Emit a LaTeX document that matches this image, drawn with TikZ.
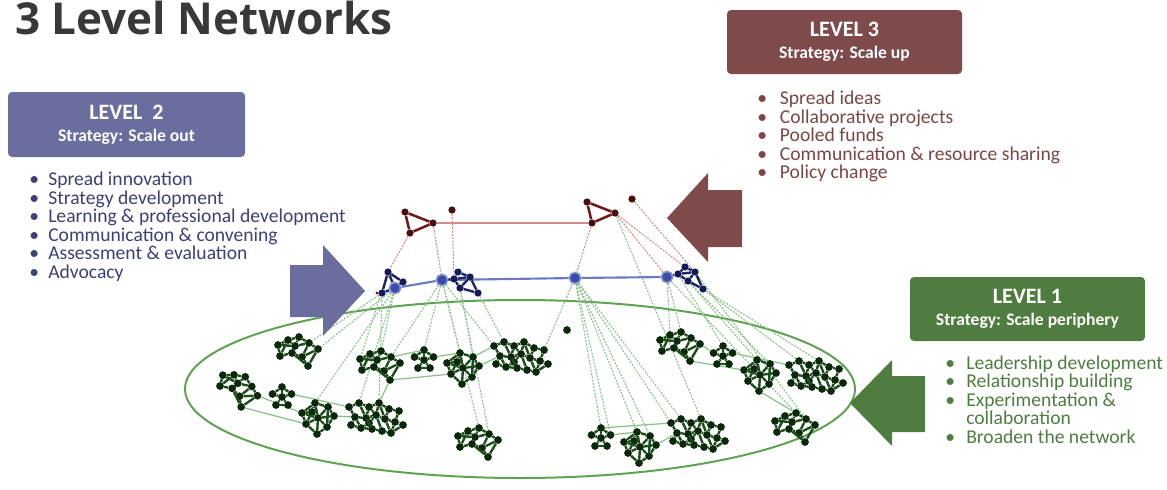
\documentclass[tikz,border=0pt]{standalone}
\usepackage{fontspec}
\setmainfont{Carlito}
\newfontfamily\titlefont{Open Sans}
\pgfdeclarelayer{bg}
\pgfsetlayers{bg,main}

\definecolor{titlec}{HTML}{383838}
\definecolor{l2c}{HTML}{6B6D9F}
\definecolor{l3c}{HTML}{7F4B4A}
\definecolor{l1c}{HTML}{4F7D3F}
\definecolor{l2t}{HTML}{3C3F78}
\definecolor{l3t}{HTML}{7B4644}
\definecolor{l1t}{HTML}{4E7D40}
\definecolor{ringc}{HTML}{5FA352}
\definecolor{gdotc}{HTML}{0A280A}
\definecolor{gedgec}{HTML}{1A4F1A}
\definecolor{glinec}{HTML}{86C286}
\definecolor{bdotc}{HTML}{141A5A}
\definecolor{bedgec}{HTML}{1B2266}
\definecolor{hubc}{HTML}{3B4BA8}
\definecolor{hubring}{HTML}{8A96D0}
\definecolor{blinec}{HTML}{6C79C4}
\definecolor{rdotc}{HTML}{4A0E0E}
\definecolor{redgec}{HTML}{6E1A1A}
\definecolor{rlinec}{HTML}{D38A8A}

\newcommand\bul[1]{\makebox[#1][l]{\textbullet}}
\newcommand\itm[1]{\smash{#1}}

\tikzset{
  gdot/.style={circle, inner sep=0pt, minimum size=5.8pt, fill=gdotc},
  gedge/.style={draw=gedgec, line width=1.8pt},
  bdot/.style={circle, inner sep=0pt, minimum size=5.4pt, fill=bdotc},
  bedge/.style={draw=bedgec, line width=1.8pt},
  hub/.style={circle, inner sep=0pt, minimum size=8.5pt, fill=hubc, draw=hubring, line width=1.2pt},
  rdot/.style={circle, inner sep=0pt, minimum size=5.4pt, fill=rdotc},
  redge/.style={draw=redgec, line width=1.9pt},
  glink/.style={draw=glinec, line width=0.8pt, dash pattern=on 1.5pt off 1pt},
  rlink/.style={draw=rlinec, line width=0.8pt, dash pattern=on 1.5pt off 1pt},
  gbridge/.style={draw=glinec, line width=0.9pt},
  lbox/.style={rounded corners=3pt, inner sep=0pt, text=white, align=center,
    font=\bfseries\fontsize{13.2}{16.5}\selectfont},
  listtext/.style={anchor=base west, inner sep=0pt, font=\fontsize{14.7}{13.95}\selectfont},
  pics/motifA/.style={code={
    \foreach \i/\px/\py in {1/-20/-7, 2/-10/-12, 3/1/-15, 4/11/-9, 5/20/-3,
                            6/-18/4, 7/-6/1, 8/4/5, 9/10/14, 10/-3/-6}
      \node[gdot] (-n\i) at (\px,\py) {};
    \foreach \a/\b in {1/2, 2/3, 3/4, 4/5, 1/6, 6/7, 7/8, 8/9, 9/5, 4/8,
                       2/10, 10/7, 10/4, 3/10, 8/5, 6/2, 7/9, 1/10}
      \draw[gedge] (-n\a) -- (-n\b);
  }},
  pics/motifB/.style={code={
    \foreach \i/\px/\py in {0/0/0, 1/0/-10, 2/9.5/-3, 3/6/8, 4/-6/8, 5/-9.5/-3}
      \node[gdot] (-n\i) at (\px,\py) {};
    \foreach \a/\b in {0/1, 0/2, 0/3, 0/4, 0/5, 1/2, 3/4, 5/1}
      \draw[gedge] (-n\a) -- (-n\b);
  }},
  pics/motifD/.style={code={
    \foreach \i/\px/\py in {0/0/0, 1/-3/-15, 2/10/-11, 3/16/-2, 4/9/9, 5/-1/16,
                            6/-12/6, 7/-16/-5, 8/-6/-6}
      \node[gdot] (-n\i) at (\px,\py) {};
    \foreach \a/\b in {0/1, 0/2, 0/3, 0/4, 0/5, 0/6, 0/7, 1/2, 2/3, 3/4, 4/5,
                       5/6, 6/7, 7/1, 8/1, 8/7, 8/0, 2/4, 6/8}
      \draw[gedge] (-n\a) -- (-n\b);
  }},
  pics/motifC/.style={code={
    \foreach \i/\px/\py in {1/-26/-12, 2/-16/-16, 3/-6/-12, 4/4/-16, 5/14/-10,
                            6/24/-8, 7/-20/-2, 8/-9/-1, 9/1/-4, 10/10/0,
                            11/20/3, 12/28/6, 13/-14/9, 14/-3/10, 15/7/12,
                            16/16/14, 17/-24/6, 18/-6/4}
      \node[gdot] (-n\i) at (\px,\py) {};
    \foreach \a/\b in {1/2, 2/3, 3/4, 4/5, 5/6, 1/7, 7/8, 8/9, 9/10, 10/11,
                       11/12, 2/8, 3/9, 4/9, 5/10, 6/11, 7/13, 13/14, 14/15,
                       15/16, 16/11, 8/14, 9/15, 10/16, 17/7, 17/13, 18/8,
                       18/9, 18/14, 3/8, 4/10, 13/18, 12/16}
      \draw[gedge] (-n\a) -- (-n\b);
  }},
}

\begin{document}
\begin{tikzpicture}[x=0.75pt, y=-0.75pt]
\useasboundingbox (0,0) rectangle (1167,489);

% title
\node[anchor=base west, inner sep=0pt, text=titlec,
      font=\titlefont\bfseries\fontsize{33}{36}\selectfont] (title) at (15,34) {3 Level Networks};

% ---------------- level 3 network (top) ----------------
\node[rdot] (t1a) at (405,212) {};
\node[rdot] (t1b) at (433,223) {};
\node[rdot] (t1c) at (410,233) {};
\node[rdot] (r1)  at (452,210) {};
\node[rdot] (t2a) at (587,202) {};
\node[rdot] (t2b) at (615,213) {};
\node[rdot] (t2c) at (592,223) {};
\node[rdot] (r2)  at (632,199) {};
\foreach \a/\b in {t1a/t1b, t1b/t1c, t1c/t1a, t2a/t2b, t2b/t2c, t2c/t2a}
  \draw[redge] (\a) -- (\b);

% ---------------- level 2 network (middle) ----------------
\node[bdot] (a1) at (388,272) {};
\node[bdot] (a2) at (403,282) {};
\node[bdot] (a3) at (382,293) {};
\node[hub]  (hA) at (395,288) {};
\node[circle, inner sep=0pt, minimum size=2.5pt, fill=red!70!black] (ra) at (377,293) {};
\node[hub]  (hB) at (442,280) {};
\node[bdot] (b1) at (454,279) {};
\node[bdot] (b2) at (458,272) {};
\node[bdot] (b3) at (470,277) {};
\node[bdot] (b4) at (460,288) {};
\node[bdot] (b5) at (478,293) {};
\node[hub]  (hC) at (575,278) {};
\node[hub]  (hD) at (667,277) {};
\node[bdot] (d1) at (678,274) {};
\node[bdot] (d2) at (685,267) {};
\node[bdot] (d3) at (695,272) {};
\node[bdot] (d4) at (688,281) {};
\node[bdot] (d5) at (703,289) {};
\foreach \a/\b in {a1/a2, a1/a3, a1/hA, a2/hA, a3/hA,
                   hB/b1, b1/b2, b2/b3, b3/b4, b4/b1, b3/b5, b4/b5, b1/b3,
                   hD/d1, d1/d2, d2/d3, d3/d4, d4/d1, d3/d5, d4/d5, d1/d3}
  \draw[bedge] (\a) -- (\b);

% ---------------- level 1 network (clusters) ----------------
\pic (c1) at (298,352) {motifA};
\pic[rotate=-25] (c2) at (238,390) {motifA};
\pic (c3) at (282,397) {motifB};
\pic (c4) at (318,418) {motifD};
\pic (c5) at (375,419) {motifC};
\pic (c6) at (380,366) {motifA};
\pic (c7) at (424,360) {motifB};
\pic (c8) at (463,368) {motifD};
\pic (c9) at (520,358) {motifC};
\node[gdot, minimum size=5.8pt] (c10) at (567,330) {};
\pic (c11) at (478,443) {motifA};
\pic (c12) at (680,347) {motifA};
\pic (c13) at (723,356) {motifB};
\pic (c14) at (760,375) {motifD};
\pic (c15) at (815,377) {motifC};
\pic (c16) at (795,428) {motifA};
\pic (c17) at (601,438) {motifB};
\pic (c18) at (640,447) {motifD};
\pic (c19) at (697,435) {motifC};

% ---------------- links behind everything ----------------
\begin{pgfonlayer}{bg}
  % the periphery ring
  \draw[ringc, line width=1.5pt] (520,389) ellipse [x radius=251.25pt, y radius=66.75pt];
  % level 3 link and level 2 chain
  \draw[rlinec, line width=1.2pt] (t1b) -- (t2c);
  \draw[blinec, line width=1.6pt] (hA) -- (hB) -- (hC) -- (hD);
  % level 3 to level 2
  \foreach \a/\b in {t1c/a1, t1b/hB, r1/b1, t2c/hC, t2b/hD, t2b/d2, r2/d3}
    \draw[rlink] (\a) -- (\b);
  % level 2 to level 1
  \foreach \a/\b in {hA/c1-n5, a3/c1-n4, hA/c6-n3, a1/c6-n1, hA/c5-n2, a3/c5-n4,
                     hA/c4-n1,
                     hB/c6-n4, hB/c7-n1, hB/c8-n1, b4/c8-n2, hB/c9-n1, b5/c9-n2,
                     hB/c11-n3, b4/c11-n4,
                     hC/c9-n6, hC/c17-n1, hC/c17-n2, hC/c18-n1, hC/c18-n2,
                     hC/c19-n1, hC/c19-n2, t2b/c19-n4,
                     hD/c12-n2, hD/c12-n3, d1/c13-n1, d4/c14-n1, d4/c14-n2,
                     d5/c15-n2, d5/c15-n4, hD/c16-n3, d3/c16-n4}
    \draw[glink] (\a) -- (\b);
  % bridges between clusters
  \foreach \a/\b in {c6-n4/c7-n1, c7-n2/c8-n1, c8-n2/c9-n1, c6-n9/c8-n6, c8-n3/c9-n7,
                     c2-n5/c4-n7, c2-n9/c4-n6, c3-n2/c5-n1, c4-n3/c5-n7, c6-n9/c5-n4,
                     c17-n1/c19-n1, c17-n2/c18-n1, c18-n3/c19-n7,
                     c12-n9/c14-n7, c13-n2/c15-n1, c14-n5/c16-n3, c12-n5/c13-n5}
    \draw[gbridge] (\a) -- (\b);
\end{pgfonlayer}

% ---------------- arrows ----------------
\fill[l2c] (290,265) -- (323,265) -- (323,245) -- (365,291) -- (323,336) -- (323,317) -- (290,317) -- cycle;
\fill[l3c] (742,190) -- (708,190) -- (708,173) -- (667,218) -- (708,262) -- (708,247) -- (742,247) -- cycle;
\fill[l1c] (925,376) -- (892,376) -- (892,360) -- (850,403) -- (892,446) -- (892,432) -- (925,432) -- cycle;

% ---------------- strategy boxes ----------------
\node[lbox, fill=l2c, minimum width=177.75pt, minimum height=48.75pt] (lvl2) at (126.5,124.5)
  {{\fontsize{16.5}{16.5}\selectfont LEVEL\ \ 2}\\Strategy: Scale out};
\node[lbox, fill=l3c, minimum width=176.25pt, minimum height=48pt] (lvl3) at (844.5,42)
  {{\fontsize{16.5}{16.5}\selectfont LEVEL 3}\\Strategy: Scale up};
\node[lbox, fill=l1c, minimum width=176.25pt, minimum height=48pt] (lvl1) at (1027.5,309)
  {{\fontsize{16.5}{16.5}\selectfont LEVEL 1}\\Strategy: Scale periphery};

% ---------------- bullet lists ----------------
\node[listtext, text=l2t] (list2) at (29,185.5)
  {\begin{tabular}[t]{@{}l@{}l@{}}
   \bul{14.25pt} & \itm{Spread innovation}\\
   \bul{14.25pt} & \itm{Strategy development}\\
   \bul{14.25pt} & \itm{Learning \& professional development}\\
   \bul{14.25pt} & \itm{Communication \& convening}\\
   \bul{14.25pt} & \itm{Assessment \& evaluation}\\
   \bul{14.25pt} & \itm{Advocacy}
   \end{tabular}};
\node[listtext, text=l3t] (list3) at (757,104.5)
  {\begin{tabular}[t]{@{}l@{}l@{}}
   \bul{17pt} & \itm{Spread ideas}\\
   \bul{17pt} & \itm{Collaborative projects}\\
   \bul{17pt} & \itm{Pooled funds}\\
   \bul{17pt} & \itm{Communication \& resource sharing}\\
   \bul{17pt} & \itm{Policy change}
   \end{tabular}};
\node[listtext, text=l1t] (list1) at (945,369)
  {\begin{tabular}[t]{@{}l@{}l@{}}
   \bul{15.75pt} & \itm{Leadership development}\\
   \bul{15.75pt} & \itm{Relationship building}\\
   \bul{15.75pt} & \itm{Experimentation \&}\\
                 & \itm{collaboration}\\
   \bul{15.75pt} & \itm{Broaden the network}
   \end{tabular}};
\end{tikzpicture}
\end{document}
